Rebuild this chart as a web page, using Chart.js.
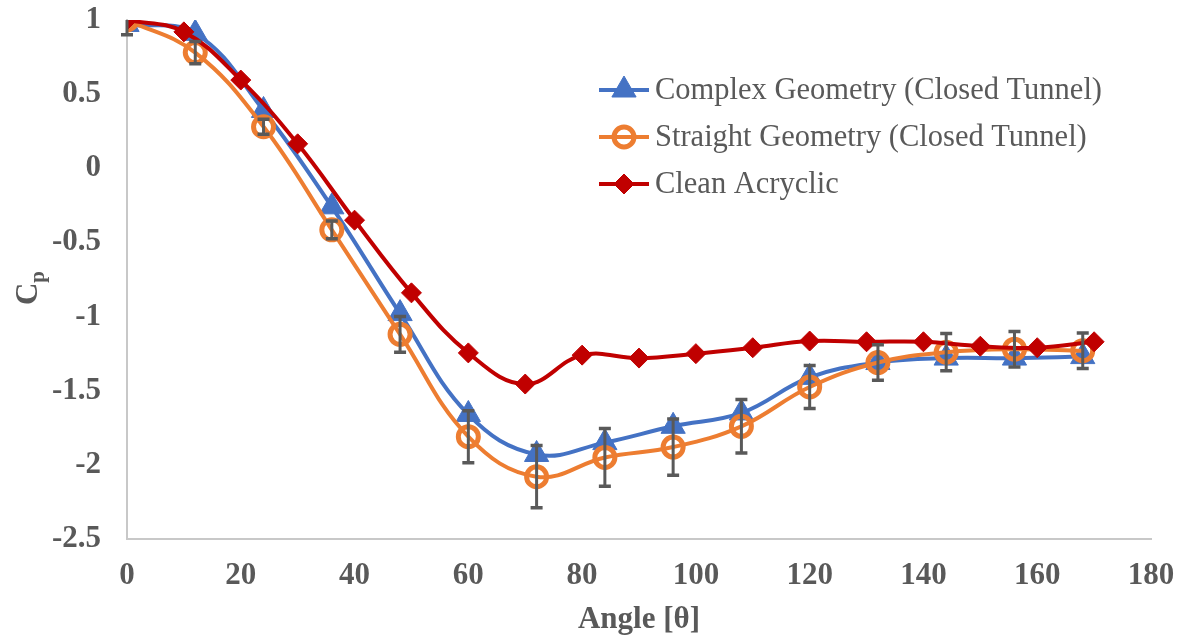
<!DOCTYPE html>
<html>
<head>
<meta charset="utf-8">
<script src="https://cdn.jsdelivr.net/npm/chart.js@4.4.0/dist/chart.umd.min.js"></script>
<style>
  html, body { margin: 0; padding: 0; background: #fff; }
  #wrap { width: 1184px; height: 643px; }
</style>
</head>
<body>
<div id="wrap"><canvas id="chart" width="1184" height="643"></canvas></div>
<script>
// angles for the two tunnel runs (every 12 deg) and the clean run (every 10 deg)
const anglesTunnel = [0, 12, 24, 36, 48, 60, 72, 84, 96, 108, 120, 132, 144, 156, 168];
const anglesClean = [0, 10, 20, 30, 40, 50, 60, 70, 80, 90, 100, 110, 120, 130, 140, 150, 160, 170];

const complexCp = [0.97, 0.91, 0.39, -0.26, -0.98, -1.66, -1.93, -1.85, -1.74, -1.65, -1.41, -1.31, -1.28, -1.28, -1.27];
const straightCp = [1.0, 0.78, 0.28, -0.415, -1.12, -1.81, -2.08, -1.95, -1.88, -1.74, -1.475, -1.31, -1.24, -1.22, -1.23];
const straightErr = [0.1, 0.075, 0.05, 0.06, 0.12, 0.175, 0.21, 0.195, 0.19, 0.18, 0.145, 0.12, 0.125, 0.12, 0.12];
const cleanCp = [1.0, 0.92, 0.595, 0.165, -0.35, -0.84, -1.245, -1.455, -1.26, -1.28, -1.25, -1.21, -1.165, -1.17, -1.17, -1.2, -1.21, -1.17];

const xTicks = [0, 20, 40, 60, 80, 100, 120, 140, 160, 180];
const yTicks = [1, 0.5, 0, -0.5, -1, -1.5, -2, -2.5];

const seriesNames = ['Complex Geometry (Closed Tunnel)', 'Straight Geometry (Closed Tunnel)', 'Clean Acryclic'];

const FONT = "'Liberation Serif', 'Times New Roman', serif";
const GREY = '#595959';

const toPoints = (xs, ys) => xs.map((x, i) => ({ x: x, y: ys[i] }));

// vertical error bars on the straight geometry series
const errorBars = {
  id: 'errorBars',
  afterDatasetsDraw(chart) {
    const ctx = chart.ctx;
    const xs = chart.scales.x, ys = chart.scales.y;
    const area = chart.chartArea;
    ctx.save();
    ctx.beginPath();
    ctx.rect(area.left - 10, area.top, area.right - area.left + 20, area.bottom - area.top);
    ctx.clip();
    ctx.strokeStyle = GREY;
    anglesTunnel.forEach((a, i) => {
      const px = xs.getPixelForValue(a);
      const top = ys.getPixelForValue(straightCp[i] + straightErr[i]);
      const bot = ys.getPixelForValue(straightCp[i] - straightErr[i]);
      ctx.lineWidth = 3;
      ctx.beginPath();
      ctx.moveTo(px, top); ctx.lineTo(px, bot);
      ctx.stroke();
      ctx.lineWidth = 3.5;
      ctx.beginPath();
      ctx.moveTo(px - 6, top); ctx.lineTo(px + 6, top);
      ctx.moveTo(px - 6, bot); ctx.lineTo(px + 6, bot);
      ctx.stroke();
    });
    ctx.restore();
  }
};

// legend with line + marker, Excel style
const lineLegend = {
  id: 'lineLegend',
  afterDraw(chart) {
    const ctx = chart.ctx;
    const rows = [90, 137, 184];
    ctx.save();
    chart.data.datasets.forEach((ds, i) => {
      const y = rows[i];
      ctx.strokeStyle = ds.borderColor;
      ctx.lineWidth = ds.borderWidth;
      ctx.beginPath();
      ctx.moveTo(599, y); ctx.lineTo(649, y);
      ctx.stroke();
      ctx.fillStyle = ds.pointBackgroundColor;
      ctx.strokeStyle = ds.borderColor;
      ctx.lineWidth = ds.pointBorderWidth;
      Chart.helpers.drawPoint(ctx, {
        pointStyle: ds.pointStyle, radius: ds.pointRadius, borderWidth: ds.pointBorderWidth, rotation: 0
      }, 624, y);
      ctx.fillStyle = GREY;
      ctx.font = '30.5px ' + FONT;
      ctx.textAlign = 'left';
      ctx.textBaseline = 'middle';
      ctx.fillText(seriesNames[i], 655, y + 1);
    });
    ctx.restore();
  }
};

// y axis title C with subscript p
const yTitle = {
  id: 'yTitle',
  afterDraw(chart) {
    const ctx = chart.ctx;
    ctx.save();
    ctx.translate(37, 288);
    ctx.rotate(-Math.PI / 2);
    ctx.fillStyle = GREY;
    ctx.textBaseline = 'alphabetic';
    ctx.font = 'bold 31px ' + FONT;
    const wC = ctx.measureText('C').width;
    ctx.font = 'bold 21px ' + FONT;
    const wp = ctx.measureText('p').width;
    const start = -(wC + wp) / 2;
    ctx.font = 'bold 31px ' + FONT;
    ctx.fillText('C', start, 0);
    ctx.font = 'bold 21px ' + FONT;
    ctx.fillText('p', start + wC, 7);
    ctx.restore();
  }
};

new Chart(document.getElementById('chart'), {
  type: 'line',
  data: {
    datasets: [
      {
        label: seriesNames[0],
        data: toPoints(anglesTunnel, complexCp),
        borderColor: '#4472C4',
        backgroundColor: '#4472C4',
        pointBackgroundColor: '#4472C4',
        borderWidth: 4,
        pointStyle: 'triangle',
        pointRadius: 14,
        pointBorderWidth: 1,
        tension: 0.4,
        order: 3
      },
      {
        label: seriesNames[1],
        data: toPoints(anglesTunnel, straightCp),
        borderColor: '#ED7D31',
        backgroundColor: '#ED7D31',
        pointBackgroundColor: 'rgba(0,0,0,0)',
        borderWidth: 4,
        pointStyle: 'circle',
        pointRadius: 10,
        pointBorderWidth: 5,
        tension: 0.4,
        order: 2
      },
      {
        label: seriesNames[2],
        data: toPoints(anglesClean, cleanCp),
        borderColor: '#C00000',
        backgroundColor: '#C00000',
        pointBackgroundColor: '#C00000',
        borderWidth: 4,
        pointStyle: 'rectRot',
        pointRadius: 10,
        pointBorderWidth: 1,
        tension: 0.4,
        order: 1
      }
    ]
  },
  options: {
    responsive: false,
    animation: false,
    layout: { padding: { top: 20, right: 33, left: 0, bottom: 0 } },
    plugins: {
      legend: { display: false },
      tooltip: { enabled: false }
    },
    scales: {
      x: {
        type: 'linear',
        min: 0,
        max: 180,
        afterFit: (s) => { s.height = 104; s.paddingLeft = 0; s.paddingRight = 0; },
        afterBuildTicks: (s) => { s.ticks = xTicks.map(v => ({ value: v })); },
        grid: { display: false, drawTicks: false },
        border: { display: true, color: '#c8c8c8', width: 2 },
        ticks: {
          color: GREY,
          padding: 18,
          font: { family: FONT, size: 31, weight: 'bold' },
          callback: (v) => String(v)
        },
        title: {
          display: true,
          text: 'Angle [θ]',
          color: GREY,
          font: { family: FONT, size: 31, weight: 'bold' },
          padding: { top: 0, bottom: 4 }
        }
      },
      y: {
        min: -2.5,
        max: 1,
        afterFit: (s) => { s.width = 127; s.paddingTop = 0; s.paddingBottom = 0; },
        afterBuildTicks: (s) => { s.ticks = yTicks.map(v => ({ value: v })); },
        grid: { display: false, drawTicks: false },
        border: { display: true, color: '#c8c8c8', width: 2 },
        ticks: {
          color: GREY,
          padding: 26,
          font: { family: FONT, size: 31, weight: 'bold' },
          callback: (v) => String(Math.round(v * 10) / 10)
        }
      }
    }
  },
  plugins: [errorBars, lineLegend, yTitle]
});
</script>
</body>
</html>
